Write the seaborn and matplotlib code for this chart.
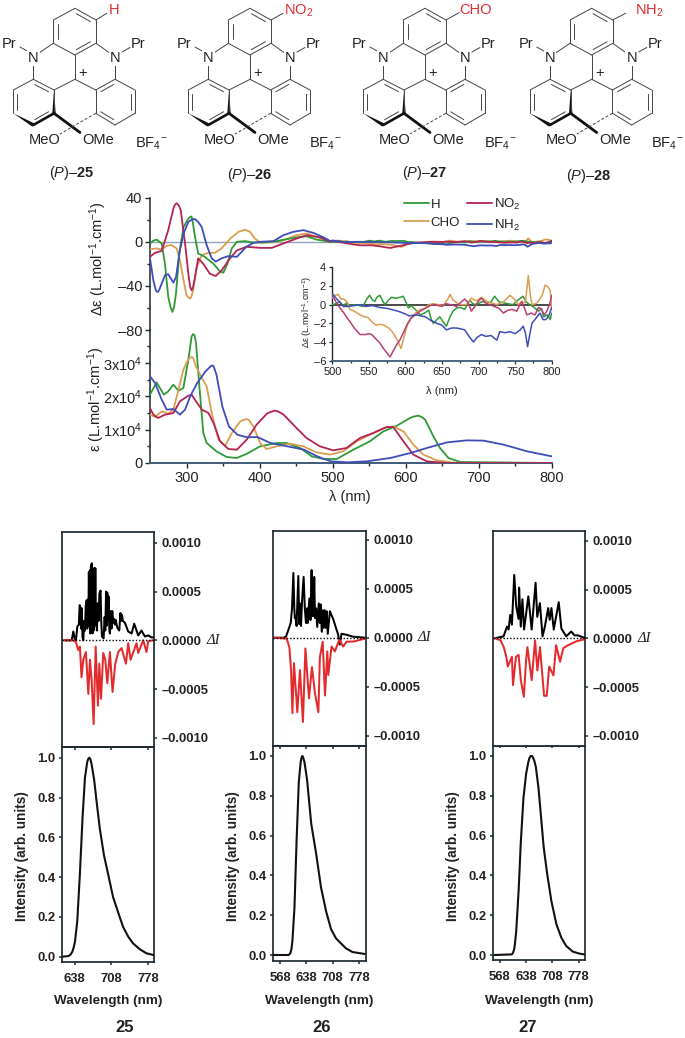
import matplotlib
matplotlib.use("Agg")
import numpy as np
import seaborn as sns
import matplotlib.pyplot as plt
from matplotlib.lines import Line2D
from matplotlib.patches import Polygon

W, H = 685, 1038

sns.set_theme(style="ticks", rc={"axes.grid": False})
plt.rcParams["font.family"] = ["Liberation Sans", "DejaVu Sans"]
plt.rcParams["mathtext.fontset"] = "custom"
plt.rcParams["mathtext.rm"] = "Liberation Sans"
plt.rcParams["mathtext.it"] = "Liberation Sans:italic"
plt.rcParams["mathtext.bf"] = "Liberation Sans:bold"
plt.rcParams["mathtext.default"] = "regular"
plt.rcParams["lines.solid_joinstyle"] = "round"

# --- CD spectra below 500 nm ---
cd_h_x = [250, 254.6, 259, 266, 270.5, 275, 278, 280.6, 283, 285.6, 290, 296, 302.5, 305, 307, 309, 311.6, 316, 325, 337, 346, 350.5, 356, 362, 369, 380, 391.5, 405, 423.5, 442, 455.6, 464.6, 478, 497]
cd_h_y = [-1.5, 1, 2, -1.5, -20, -50, -59, -63.6, -59, -47, -10.6, 13.6, 21, 22.5, 23, 16, 4.5, -10.6, -13.6, -20, -27, -28, -20, -6, 0, 0.6, -0.6, -0.6, 0.6, 3, 4.5, 5, 2, 0]
cd_cho_x = [250, 259, 266, 273, 279.7, 286.5, 291, 296, 300, 302.5, 305, 307, 309, 314, 321, 330, 339, 348, 360, 371, 380, 387, 393.6, 400.7, 414, 433, 451, 464.6, 478, 496.6]
cd_cho_y = [-6.7, -6, -7, -3.6, -3, -6, -16.7, -35, -48.5, -50.5, -51.5, -49, -44, -23, -12, -10, -10, -6, 3, 9, 11, 9, 3, -0.6, -0.6, 1.5, 6, 7.6, 4.5, 0]
cd_no2_x = [250, 257, 266, 275, 282, 284, 286.5, 289, 292, 298, 302.5, 305, 307, 309, 311.6, 316, 323, 332, 340, 348, 359.6, 368.7, 382, 400.7, 416.7, 432.6, 451, 464.6, 483, 496.6]
cd_no2_y = [-13.6, -10, -8.2, 10.6, 30, 33.5, 35, 33.5, 29, -1.5, -29, -41, -44, -41, -32, -15, -20, -29, -31, -26, -15, -8, -4.5, -5.5, -5.5, -1.5, 3, 6, 4, 0]
cd_nh2_x = [250, 254.6, 258, 259.5, 261, 263, 266, 270.5, 275, 282, 285.6, 291, 296, 302.5, 308, 311.6, 316, 320.7, 327.6, 334.5, 340, 348, 357, 369, 382, 391.5, 400.7, 419, 432.6, 446, 460, 474, 487.7, 497]
cd_nh2_y = [-15, -35, -44, -45.3, -45.5, -43, -38, -30.3, -29.4, -37, -32, -7.6, 7.6, 18, 20.5, 20.6, 18, 13.6, -3, -15, -18, -15, -13, -13.6, -4.5, -1, 0, 0.6, 6, 9, 10.6, 8, 4, 0.6]

# --- CD detail, 500 to 800 nm (inset) ---
inset_h_x = [500, 505, 510, 515, 520, 524, 533, 542, 547, 551, 555, 558, 561, 565, 569, 572, 577, 581, 585, 588, 593, 597, 600, 604, 608, 611, 616, 620, 626, 632, 635, 638, 643, 647, 652, 656, 661, 665, 670, 675, 681, 685, 688, 692, 697, 704, 711, 716, 722, 728, 734, 740, 747, 754, 761, 765, 770, 776, 782, 786, 789, 794, 798, 800]
inset_h_y = [0, 0.1, 0.3, -0.1, 0.2, -0.1, 0, -0.2, 0.6, 1, 0.5, 0.35, 0.8, 1, 0.4, 0, 0.5, 0.8, 0.7, 0.7, 0.8, 0.9, 0.4, -0.35, -0.1, -0.35, -0.7, -1.1, -0.9, -0.6, -1.5, -2, -1.6, -1.3, -1.9, -2.3, -1.3, -0.7, -0.35, -0.3, -0.5, 0.1, 0.5, 0.1, 0, 0.3, 0.35, 0.2, 0.9, 0.3, 0.2, 0.1, 0, 0.5, 0.9, 0.3, 0, -0.3, -0.7, -0.4, -1.3, -1.1, -1.6, -0.9]
inset_cho_x = [500, 504, 508, 512, 516, 520, 524, 530, 538, 544, 549, 555, 560, 565, 571, 577, 583, 589, 594, 598, 602, 606, 611, 618, 626, 632, 638, 645, 652, 658, 661, 665, 670, 675, 683, 690, 697, 704, 711, 718, 725, 734, 743, 749, 754, 759, 764, 768, 771, 773, 778, 782, 787, 791, 795, 798, 800]
inset_cho_y = [0.7, 1, 1.1, 0.6, 0.6, 0.3, -0.5, -0.7, -1.1, -1.3, -1.4, -1.9, -2.2, -2.1, -2.2, -2.5, -3, -3.8, -4.7, -3.5, -2.3, -1.7, -1.1, -0.6, -0.4, 0, 0.1, 0, -0.1, 0.6, 1.1, 0.5, 0.2, 0, 0, 0.7, 0.4, 0.8, 0.3, 0.2, 0, 0.3, 1, 0.6, 0, 0.3, 0.2, 3.1, 0.9, 0, 0.1, 0.4, 1, 2.1, 1.9, 1.5, -0.5]
inset_no2_x = [500, 505, 510, 515, 520, 524, 530, 538, 545, 550, 554, 560, 565, 570, 575, 579, 583, 588, 593, 599, 603, 608, 614, 620, 627, 634, 640, 650, 655, 662, 670, 675, 681, 686, 690, 695, 700, 704, 709, 715, 722, 728, 734, 740, 746, 752, 759, 763, 766, 772, 777, 782, 786, 790, 794, 798, 800]
inset_no2_y = [1, 0.3, -0.3, -0.8, -1.4, -1.8, -2.5, -3.2, -3.2, -3.1, -3.2, -3.7, -4.1, -4.7, -5.2, -5.6, -5, -4.3, -3.7, -2.7, -2, -1.4, -1.1, -0.7, -0.4, -0.1, 0, -0.2, 0.1, 0, -0.2, 0.2, 0.6, 0.2, -0.7, -0.2, 0.4, 0.7, 0.2, 0, -0.2, -0.4, -0.9, -0.6, -0.5, -0.7, 0.35, -0.4, -1.1, -0.9, -1.1, -0.3, -0.5, -1.1, -0.6, 0.3, 1]
inset_nh2_x = [500, 505, 510, 515, 520, 530, 540, 545, 555, 565, 575, 580, 590, 600, 605, 615, 627, 635, 643, 650, 656, 663, 670, 676, 681, 687, 693, 698, 704, 710, 717, 725, 729, 736, 743, 750, 757, 761, 764, 767, 770, 773, 779, 784, 788, 792, 796, 800]
inset_nh2_y = [1.2, 0.7, 0.3, -0.2, -0.2, -0.1, 0, -0.2, -0.1, -0.3, -0.4, -0.5, -0.7, -1, -1.2, -1.1, -1.3, -1.7, -2, -2.2, -2.7, -2.5, -2.5, -2.6, -2.7, -3.4, -4, -3.5, -3.2, -3.4, -3.3, -3.8, -2.9, -3, -2.9, -3.1, -2.7, -2.3, -3, -4.5, -3.2, -2, -1.4, -0.9, -1.6, -1.6, -1.2, -0.3]

# --- absorption ---
abs_h_x = [250, 259, 269, 275, 282, 289, 295.7, 302.5, 307, 309, 311, 313, 317.6, 323, 327.6, 341, 355, 368.7, 382, 400.7, 423.5, 437, 455.5, 471.5, 487.5, 505.7, 528.5, 551, 569.6, 588, 606, 612, 617.6, 622, 626.7, 638, 647, 658.7, 674.7, 800]
abs_h_y = [20500, 24200, 20500, 21500, 23500, 21700, 22500, 31000, 38000, 38700, 38300, 36000, 23000, 9000, 6000, 3500, 1800, 1500, 2700, 5000, 6000, 6000, 4500, 2000, 1200, 1200, 4000, 6500, 9500, 11200, 13500, 14000, 14200, 13800, 13000, 8000, 4500, 1500, 300, 0]
abs_cho_x = [250, 257, 266, 275, 282, 289, 295.7, 302.5, 305, 307, 309, 313, 321, 327.6, 334.5, 343.6, 353, 362, 373.6, 382, 385, 391.5, 400.7, 409.6, 423.5, 441.7, 460, 478, 496.6, 514.5, 533, 551, 570, 583, 597, 610.6, 624.3, 642.6, 670, 800]
abs_cho_y = [14500, 13800, 15500, 14800, 16000, 22000, 28000, 31200, 31600, 31800, 31500, 29000, 25500, 23000, 15000, 7000, 5200, 9000, 12500, 13200, 13000, 11000, 6000, 4200, 5000, 5800, 5000, 3200, 2500, 3500, 6500, 8500, 10500, 11000, 9500, 5500, 2500, 800, 0, 0]
abs_no2_x = [250, 254.6, 261, 270.5, 282, 291, 302.5, 307, 313, 321, 330, 337, 346, 357.3, 369, 382.4, 396, 410, 415, 421, 426, 433, 450.6, 464.3, 482.6, 500.8, 519, 537.4, 555.7, 574, 583, 597, 610.6, 629, 656, 800]
abs_no2_y = [16500, 14500, 13500, 14500, 15000, 18500, 20200, 20500, 18500, 16000, 15000, 12000, 6500, 4200, 4000, 7000, 11500, 14800, 15300, 15700, 15400, 14500, 10500, 7500, 5000, 3800, 4500, 7500, 9000, 10800, 10800, 6500, 2500, 500, 0, 0]
abs_nh2_x = [250, 257, 266, 273, 282, 291, 298, 305, 314.6, 326, 333, 335, 337, 341, 349, 358, 369.6, 383, 397, 415, 438, 461, 479, 497.5, 520, 547, 579, 606.6, 629, 657, 684, 707, 734.3, 766.3, 800]
abs_nh2_y = [26000, 24000, 19000, 16000, 16200, 14500, 16000, 20000, 24000, 27500, 29000, 29300, 29100, 26500, 17000, 11000, 8500, 7700, 7800, 6000, 5000, 4000, 2000, 500, 200, 500, 1500, 3000, 4500, 6200, 6800, 6700, 5500, 3500, 2000]

# --- CPL, in units of 1e-4 ---
cpl25_pos_x = [617.8, 632.3, 635.5, 638, 640.5, 643, 646, 647.5, 648.8, 650, 651.3, 653, 654.4, 656, 657.6, 659, 660.8, 662, 663, 664, 665, 666, 667, 667.7, 669, 670, 670.6, 672, 673, 674, 675, 676, 677.3, 678.5, 680.4, 682, 683.5, 685, 687.3, 688.5, 689.9, 693, 695, 696.2, 697.7, 699, 700, 701.5, 702.5, 704, 705, 706.5, 708, 709.5, 711.4, 713, 714.5, 716, 719, 722.8, 725, 726.5, 728, 729.5, 733.5, 739.8, 746.2, 751.2, 758.8, 765, 771.5, 777.8, 784, 788.5]
cpl25_pos_y = [0, 0, 0.9, 0.2, 0, 1.4, 1.6, 3.6, 3.4, 1.2, 3.3, 0.3, 0, 2, 1, 3.5, 4.1, 1.2, 4.2, 1.5, 7, 2, 7.2, 0.7, 7.7, 1.5, 7.9, 0.7, 6, 1, 7.4, 1.5, 7.4, 2, 1, 3.8, 2, 4.8, 5.1, 2, 0.4, 0.2, 2.4, 1, 5, 1.5, 4.9, 2, 4.5, 1, 0.7, 3, 1.2, 3, 1.8, 2.2, 1.6, 2.1, 1.3, 1, 2.8, 2, 2.6, 2, 1.8, 0.9, 0.7, 1.7, 0.5, 1, 0.4, 0.5, 0.3, 0.3]
cpl25_neg_x = [617.8, 635.5, 640.5, 645, 648, 651, 654.4, 659.4, 664, 667.1, 670.3, 674.1, 677.9, 682.3, 684.9, 688, 692.4, 696.2, 700, 705, 710, 715.2, 720.9, 727.2, 735.5, 739.8, 744.3, 755.7, 758.8, 768.3, 774.6, 777.8, 786]
cpl25_neg_y = [0, 0, -0.2, -1, -0.65, -3.8, -2, -1.2, -5.5, -2, -4.1, -8.6, -0.65, -6.7, -2.4, -6, -1.3, -2, -4.4, -1.2, -5.3, -2.4, -1.2, -0.8, -2.4, -0.3, -2, -0.3, -1.3, 0, -1.2, -0.1, 0]
cpl26_pos_x = [553.3, 577, 584, 596.5, 600, 603.5, 606, 607.5, 609, 612, 616.7, 619, 621, 623.8, 627, 630.8, 634, 637, 640, 642, 646, 649, 652, 654, 655.5, 657, 659, 661, 664, 667, 671, 674, 676, 679, 682, 684, 687, 689.5, 692, 695, 700.6, 709.4, 722.6, 727, 731.5, 744.7, 762.4, 793.3]
cpl26_pos_y = [0, 0, 0.1, 1.5, 3, 6.6, 3, 2, 2.2, 1.2, 6.3, 1.4, 3.5, 1.2, 4, 6.2, 3, 1.5, 3, 1.5, 4, 1.8, 6.9, 2.2, 5, 2.2, 6.2, 2, 3, 1.1, 3.5, 1.5, 3.4, 0.6, 2.8, 1, 2.8, 1, 2.7, 0.4, 2.7, 1.9, 0.3, -0.7, 0.4, 0.3, 0.1, 0]
cpl26_neg_x = [553.3, 586, 593, 597.4, 601, 605.2, 614, 621, 629, 635.5, 645, 653, 661, 670, 674, 681.5, 687.6, 693.7, 696.4, 705, 714, 725.5, 736, 745, 762.4, 793.3]
cpl26_neg_y = [0, -0.1, -1, -3.3, -7.7, -2.6, -7.6, -3.3, -8.6, -1.1, -6.2, -3, -5.7, -7.6, -2, -0.4, -5.9, -1.4, -3.8, -0.9, -1.4, -0.2, -0.9, -0.4, -0.4, -0.1]
cpl27_pos_x = [554.7, 578, 587, 591.4, 595.8, 600.2, 606.4, 611.6, 617.7, 619.4, 623.8, 628.2, 632.6, 644, 652.8, 663.3, 667.7, 674.8, 681.8, 688, 696.8, 701, 705.5, 711.7, 725, 732, 745, 758.3, 767, 776, 793.3]
cpl27_pos_y = [0, 0.2, 1.2, 0.9, 2.4, 1.4, 6.5, 3.3, 2, 5.2, 1.2, 4, 0.9, 4.3, 0.9, 5.7, 2.2, 3.6, 0.2, 1.2, 3.1, 1.9, 3.1, 0.9, 3.7, 1, 0.2, 0.7, 0.3, 0.3, 0.05]
cpl27_neg_x = [554.7, 569.6, 578.4, 585.4, 589, 600.3, 603, 611, 618, 624, 632, 638, 641.5, 653, 662, 668, 675, 686, 693, 699.5, 711, 718, 728.5, 737.3, 750.5, 772.5, 794]
cpl27_neg_y = [0, -0.2, -0.9, -1.9, -2.9, -1.9, -4.8, -1.9, -1.7, -4.3, -6, -2.2, -0.9, -4.3, -0.2, -3.3, -0.9, -5.9, -5.9, -2.9, -3.8, -0.7, -2.4, -1, -0.7, -0.3, -0.1]

# --- emission ---
em25_x = [614.6, 626, 630, 633.6, 636, 638.6, 643, 648, 653, 657.6, 662, 664, 665.8, 667.5, 670, 675, 681, 686, 693.7, 702, 711, 721, 730, 740, 749, 762, 774.6, 788.5]
em25_y = [0, 0.003, 0.01, 0.025, 0.045, 0.075, 0.18, 0.42, 0.70, 0.90, 0.98, 0.995, 1.0, 0.995, 0.97, 0.89, 0.75, 0.64, 0.51, 0.41, 0.30, 0.22, 0.15, 0.10, 0.067, 0.037, 0.017, 0.008]
em26_x = [550.5, 590, 593, 596, 598.5, 601, 606.5, 612, 618, 623, 625, 627.5, 630, 633, 640, 651, 664, 677, 690.5, 703.6, 716.7, 725.5, 743, 760.5, 787, 793]
em26_y = [0, 0, 0.003, 0.012, 0.03, 0.07, 0.24, 0.57, 0.87, 0.97, 0.99, 1, 0.99, 0.97, 0.88, 0.66, 0.51, 0.34, 0.22, 0.13, 0.084, 0.067, 0.034, 0.015, 0.007, 0.005]
em27_x = [553.8, 600, 603, 606.4, 608.5, 611.7, 618, 624, 631, 638, 644, 647, 650, 654, 657, 660, 664, 671, 678, 685, 694, 705.5, 718.7, 732, 745, 762.6, 780, 793]
em27_y = [0, 0.003, 0.01, 0.03, 0.06, 0.12, 0.32, 0.57, 0.79, 0.91, 0.97, 0.99, 1, 1, 0.99, 0.975, 0.945, 0.84, 0.69, 0.54, 0.41, 0.27, 0.155, 0.087, 0.045, 0.017, 0.007, 0.003]

cd_xticks = [300, 400, 500, 600, 700, 800]
inset_xticks = [500, 550, 600, 650, 700, 750, 800]
cpl_ticks = [10, 5, 0, -5, -10]
cpl_labels = ["0.0010", "0.0005", "0.0000", "\u20130.0005", "\u20130.0010"]
em_ticks = [0.0, 0.2, 0.4, 0.6, 0.8, 1.0]

GREEN, ORANGE, CRIMSON, BLUE = "#2f9a35", "#d99e50", "#b52450", "#3f4db8"
INK = "#1d2a30"
RED = "#e32b2e"


def px_axes(l, t, r, b):
    return fig.add_axes([l / W, 1 - b / H, (r - l) / W, (b - t) / H], facecolor="none")


def line(ax, x, y, color, lw=1.3, zorder=3):
    sns.lineplot(x=x, y=y, ax=ax, color=color, lw=lw, sort=False, estimator=None,
                 legend=False, zorder=zorder)
    ax.set_xlabel("")
    ax.set_ylabel("")


def style(ax, lw=1.1):
    for s in ax.spines.values():
        s.set_color(INK)
        s.set_linewidth(lw)


fig = plt.figure(figsize=(W / 100, H / 100), dpi=100, facecolor="white")

# overlay in image pixels for the drawn structures and free text
ov = fig.add_axes([0, 0, 1, 1], zorder=0)
ov.set_xlim(0, W)
ov.set_ylim(H, 0)
ov.axis("off")

# ---------- CD (top) ----------
ax_cd = px_axes(150, 197.7, 551.7, 330)
ax_cd.axhline(0, color="#8fa6ba", lw=1.0, zorder=1)
line(ax_cd, cd_cho_x + inset_cho_x, cd_cho_y + inset_cho_y, ORANGE)
line(ax_cd, cd_h_x + inset_h_x, cd_h_y + inset_h_y, GREEN)
line(ax_cd, cd_no2_x + inset_no2_x, cd_no2_y + inset_no2_y, CRIMSON)
line(ax_cd, cd_nh2_x + inset_nh2_x, cd_nh2_y + inset_nh2_y, BLUE)
ax_cd.set_xlim(250, 800)
ax_cd.set_ylim(-80, 40)
ax_cd.set_yticks([-80, -40, 0, 40])
ax_cd.set_yticklabels(["\u201380", "\u201340", "0", "40"], fontsize=10.5, color="#222222")
ax_cd.set_yticks([-60, -20, 20], minor=True)
ax_cd.tick_params(axis="y", which="major", length=3.5, width=1, color=INK, pad=2)
ax_cd.tick_params(axis="y", which="minor", length=2, width=1, color=INK)
ax_cd.xaxis.set_visible(False)
sns.despine(ax=ax_cd, top=True, right=True, bottom=True)
style(ax_cd)

# ---------- absorption ----------
ax_abs = px_axes(150, 329.7, 551.7, 463)
line(ax_abs, abs_h_x, abs_h_y, GREEN)
line(ax_abs, abs_cho_x, abs_cho_y, ORANGE)
line(ax_abs, abs_no2_x, abs_no2_y, CRIMSON)
line(ax_abs, abs_nh2_x, abs_nh2_y, BLUE)
ax_abs.set_xlim(250, 800)
ax_abs.set_ylim(0, 40000)
ax_abs.set_yticks([0, 10000, 20000, 30000])
ax_abs.set_yticklabels(["0", "1x10$^{4}$", "2x10$^{4}$", "3x10$^{4}$"], fontsize=10.5, color="#222222")
ax_abs.set_yticks([5000, 15000, 25000, 35000], minor=True)
ax_abs.set_xticks(cd_xticks)
ax_abs.set_xticklabels(cd_xticks, fontsize=10.5, color="#222222")
ax_abs.set_xticks([350, 450, 550, 650, 750], minor=True)
ax_abs.tick_params(axis="both", which="major", length=3.5, width=1, color=INK, pad=2)
ax_abs.tick_params(axis="both", which="minor", length=2, width=1, color=INK)
sns.despine(ax=ax_abs, top=True, right=True)
style(ax_abs)
ax_abs.spines["bottom"].set_color("#3f5a78")
ax_abs.spines["bottom"].set_linewidth(1.4)

# ---------- inset ----------
ax_in = px_axes(332.3, 267.3, 551.7, 360.7)
ax_in.axhline(0, color="#2a2a2a", lw=1.2, zorder=2)
line(ax_in, inset_h_x, inset_h_y, GREEN, lw=1.1, zorder=3)
line(ax_in, inset_cho_x, inset_cho_y, ORANGE, lw=1.1, zorder=3)
line(ax_in, inset_no2_x, inset_no2_y, "#b93f78", lw=1.1, zorder=3)
line(ax_in, inset_nh2_x, inset_nh2_y, BLUE, lw=1.1, zorder=3)
ax_in.set_xlim(500, 800)
ax_in.set_ylim(-6, 4)
ax_in.set_yticks([-6, -4, -2, 0, 2, 4])
ax_in.set_yticklabels(["\u20136", "\u20134", "\u20132", "0", "2", "4"], fontsize=8, color="#222222")
ax_in.set_xticks(inset_xticks)
ax_in.set_xticklabels(inset_xticks, fontsize=8, color="#222222")
ax_in.set_xticks([525, 575, 625, 675, 725, 775], minor=True)
ax_in.tick_params(axis="both", which="major", length=2.5, width=0.9, color=INK, pad=2)
ax_in.tick_params(axis="x", which="minor", length=1.5, width=0.9, color=INK)
sns.despine(ax=ax_in, top=True, right=True)
style(ax_in, 1.0)
ax_in.spines["bottom"].set_color("#3f5a78")
ax_in.spines["bottom"].set_linewidth(1.3)

ov.text(98, 259, "\u0394\u03b5 (L.mol$^{-1}$.cm$^{-1}$)", rotation=90, ha="center", va="center", fontsize=10.5, color="#222222")
ov.text(96, 399, "\u03b5 (L.mol$^{-1}$.cm$^{-1}$)", rotation=90, ha="center", va="center", fontsize=10.5, color="#222222")
ov.text(350, 497, "\u03bb (nm)", ha="center", va="center", fontsize=10.5, color="#222222")
ov.text(442, 391, "\u03bb (nm)", ha="center", va="center", fontsize=8, color="#222222")
ov.text(307, 312, "\u0394\u03b5 (L.mol$^{-1}$.cm$^{-1}$)", rotation=90, ha="center", va="center", fontsize=6.6, color="#222222")

handles = [Line2D([], [], color=GREEN, lw=1.3), Line2D([], [], color=ORANGE, lw=1.3),
           Line2D([], [], color=CRIMSON, lw=1.3), Line2D([], [], color=BLUE, lw=1.3)]
fig.legend(handles, ["H", "CHO", "NO$_2$", "NH$_2$"], ncol=2, frameon=False, fontsize=9.5,
           loc="upper left", bbox_to_anchor=(397 / W, 1 - 190 / H), handlelength=1.9,
           handletextpad=0.15, columnspacing=0.5, labelspacing=0.45, borderpad=0, labelcolor="#222222")

# ---------- CPL + emission panels ----------
panels = [
    dict(l=62.3, r=154.3, t=532.3, m=746.7, b=961.7, zero=640.3, up=97.5, e0=956.7, xl=(614.5, 789.4),
         xticks=[638, 708, 778], pos=(cpl25_pos_x, cpl25_pos_y), neg=(cpl25_neg_x, cpl25_neg_y), em=(em25_x, em25_y),
         lab_x=21.7, wave_x=108.3, name="25", name_x=124.3),
    dict(l=273.3, r=365.7, t=531, m=745.7, b=960.7, zero=637.7, up=98, e0=955, xl=(550.2, 795.8),
         xticks=[568, 638, 708, 778], pos=(cpl26_pos_x, cpl26_pos_y), neg=(cpl26_neg_x, cpl26_neg_y), em=(em26_x, em26_y),
         lab_x=233, wave_x=319, name="26", name_x=321.7),
    dict(l=493.3, r=585, t=531, m=745.5, b=960, zero=638.3, up=97.5, e0=955, xl=(550.6, 795),
         xticks=[568, 638, 708, 778], pos=(cpl27_pos_x, cpl27_pos_y), neg=(cpl27_neg_x, cpl27_neg_y), em=(em27_x, em27_y),
         lab_x=453, wave_x=539, name="27", name_x=528),
]

for p in panels:
    # scale in px per 1e-4, limits follow from the frame
    s = p["up"] / 10
    ax_c = px_axes(p["l"], p["t"], p["r"], p["m"])
    ax_c.axhline(0, color="black", lw=1.0, ls=(0, (1, 1.4)), zorder=4)
    line(ax_c, p["pos"][0], p["pos"][1], "black", lw=1.45)
    line(ax_c, p["neg"][0], p["neg"][1], RED, lw=1.45)
    ax_c.set_xlim(*p["xl"])
    ax_c.set_ylim((p["zero"] - p["m"]) / s, (p["zero"] - p["t"]) / s)
    ax_c.set_xticks([])
    ax_c.yaxis.tick_right()
    ax_c.set_yticks(cpl_ticks)
    ax_c.set_yticklabels(cpl_labels, fontsize=9.4, fontweight="bold", color="#222222")
    ax_c.tick_params(axis="y", length=2.5, width=1.1, color=INK, pad=3)
    sns.despine(ax=ax_c, top=False, right=False)
    style(ax_c, 1.25)
    ov.text(p["r"] + 52, p["zero"], "\u0394I", fontsize=10.5, style="italic", family="Liberation Serif",
            ha="left", va="center", color="#222222")

    ax_e = px_axes(p["l"], p["m"], p["r"], p["b"])
    line(ax_e, p["em"][0], p["em"][1], "#111111", lw=1.5)
    ax_e.set_xlim(*p["xl"])
    ax_e.set_ylim((p["e0"] - p["b"]) / 199, (p["e0"] - p["m"]) / 199)
    ax_e.set_yticks(em_ticks)
    ax_e.set_yticklabels([f"{v:.1f}" for v in em_ticks], fontsize=9.4, fontweight="bold", color="#222222")
    ax_e.set_xticks(p["xticks"])
    ax_e.set_xticklabels(p["xticks"], fontsize=9.4, fontweight="bold", color="#222222")
    ax_e.tick_params(axis="y", length=2.5, width=1.1, color=INK, pad=2.5)
    ax_e.tick_params(axis="x", length=2, width=1.1, color=INK, pad=6)
    top = ax_e.secondary_xaxis("top")
    top.set_xticks(p["xticks"])
    top.set_xticklabels([])
    top.tick_params(direction="in", length=2, width=1.1, color=INK)
    top.spines["top"].set_visible(False)
    sns.despine(ax=ax_e, top=False, right=False)
    style(ax_e, 1.25)

    ov.text(p["lab_x"], 856, "Intensity (arb. units)", rotation=90, ha="center", va="center",
            fontsize=9.8, fontweight="bold", color="#222222")
    ov.text(p["wave_x"], 1001, "Wavelength (nm)", ha="center", va="center", fontsize=9.7,
            fontweight="bold", color="#222222")
    ov.text(p["name_x"], 1028, p["name"], ha="center", va="center", fontsize=12, fontweight="bold", color="#222222")

# ---------- structures, outline taken from compound 25 in px ----------
atoms = dict(a=(53.3, 20), b=(75, 8.3), c=(96, 20), d=(96, 43.3), e=(75, 55), f=(53.3, 43.3),
             n1=(33.3, 56.7), n2=(115, 56.7), g=(75, 79.3), h=(33.3, 79.3), i=(13.3, 90), j=(13.3, 113.3),
             k=(33.3, 125), l=(54, 113.3), m=(54, 90), n=(115, 79.3), o=(135, 90), p=(135, 113.3),
             q=(115, 125), r=(95.7, 113.3), s=(95.7, 90))
single = [("a", "b"), ("b", "c"), ("c", "d"), ("d", "e"), ("e", "f"), ("f", "a"), ("e", "g"), ("g", "m"), ("g", "s"),
          ("h", "i"), ("i", "j"), ("l", "m"), ("m", "h"), ("n", "o"), ("o", "p"), ("p", "q"), ("q", "r"), ("r", "s"), ("s", "n"),
          ("n1", "f"), ("n1", "h"), ("n2", "d"), ("n2", "n")]
double_top = [("a", "f"), ("b", "c"), ("d", "e")]
double_left = [("i", "j"), ("k", "l"), ("m", "h")]
double_right = [("n", "s"), ("o", "p"), ("q", "r")]
ring_centres = dict(top=(75, 31.7), left=(33.6, 102), right=(115, 102))

subst = [
    dict(dx=0, txt="H", tx=114, end=(106.7, 13.3), bf=151.7, name="($\\mathit{P}$)\u2013$\\mathbf{25}$", nx=71.7, ny=173),
    dict(dx=175, txt="NO$_2$", tx=124, end=(108, 13.3), bf=150, name="($\\mathit{P}$)\u2013$\\mathbf{26}$", nx=75, ny=175),
    dict(dx=350, txt="CHO", tx=126, end=(109, 12.7), bf=150, name="($\\mathit{P}$)\u2013$\\mathbf{27}$", nx=74.3, ny=173),
    dict(dx=516.7, txt="NH$_2$", tx=133, end=(109, 13.3), bf=150.3, name="($\\mathit{P}$)\u2013$\\mathbf{28}$", nx=72, ny=176),
]


def bond(p1, p2, dx, shrink=0.0, **kw):
    (x1, y1), (x2, y2) = p1, p2
    vx, vy = x2 - x1, y2 - y1
    ov.plot([x1 + shrink * vx + dx, x2 - shrink * vx + dx], [y1 + shrink * vy, y2 - shrink * vy],
            color=kw.pop("color", "#444444"), lw=kw.pop("lw", 0.7), solid_capstyle="round", **kw)


for st in subst:
    dx = st["dx"]
    for u, v in single:
        bond(atoms[u], atoms[v], dx)
    for pairs, centre in ((double_top, "top"), (double_left, "left"), (double_right, "right")):
        cx, cy = ring_centres[centre]
        for u, v in pairs:
            in1 = (atoms[u][0] + (cx - atoms[u][0]) * 0.2, atoms[u][1] + (cy - atoms[u][1]) * 0.2)
            in2 = (atoms[v][0] + (cx - atoms[v][0]) * 0.2, atoms[v][1] + (cy - atoms[v][1]) * 0.2)
            bond(in1, in2, dx, shrink=0.08)
    # N-propyl bonds
    bond((20, 47), (29, 52), dx)
    bond((122, 52), (130, 47.5), dx)
    # bold edge of the helical front
    jx, jy = atoms["j"]
    kx, ky = atoms["k"]
    lx, ly = atoms["l"]
    mx, my = atoms["m"]
    ov.add_patch(Polygon([(jx + dx, jy), (kx + dx - 1, ky + 1.6), (kx + dx + 1, ky - 1.6)], closed=True, fc="#111111", ec="none"))
    ov.add_patch(Polygon([(mx + dx, my), (lx + dx - 1.7, ly), (lx + dx + 1.7, ly)], closed=True, fc="#111111", ec="none"))
    bond((kx, ky), (lx, ly), dx, color="#111111", lw=1.9)
    bond((lx, ly), (80, 132.5), dx, color="#111111", lw=2.0)
    bond((95.7, 113.3), (60, 134), dx, ls=(0, (3, 2)), lw=0.7)
    # substituent
    bond(atoms["c"], st["end"], dx)
    for (tx, ty, t) in ((9.5, 44.5, "Pr"), (33.3, 57.5, "N"), (115, 57.5, "N"), (138.5, 44.5, "Pr"), (83, 73.5, "+"),
                        (45, 139.5, "MeO"), (98, 140, "OMe")):
        ov.text(tx + dx, ty, t, ha="center", va="center", fontsize=10.5, color="#222222",
                bbox=dict(fc="white", ec="none", pad=0.8) if t == "N" else None)
    ov.text(st["tx"] + dx, 10.5, st["txt"], ha="center", va="center", fontsize=10.5, color=RED)
    ov.text(st["bf"] + dx, 144, "BF$_4$$^{-}$", ha="center", va="center", fontsize=10.5, color="#222222")
    ov.text(st["nx"] + dx, st["ny"], st["name"], ha="center", va="center", fontsize=10.5, color="#222222")

fig.savefig("out.png", dpi=100, facecolor="white")
